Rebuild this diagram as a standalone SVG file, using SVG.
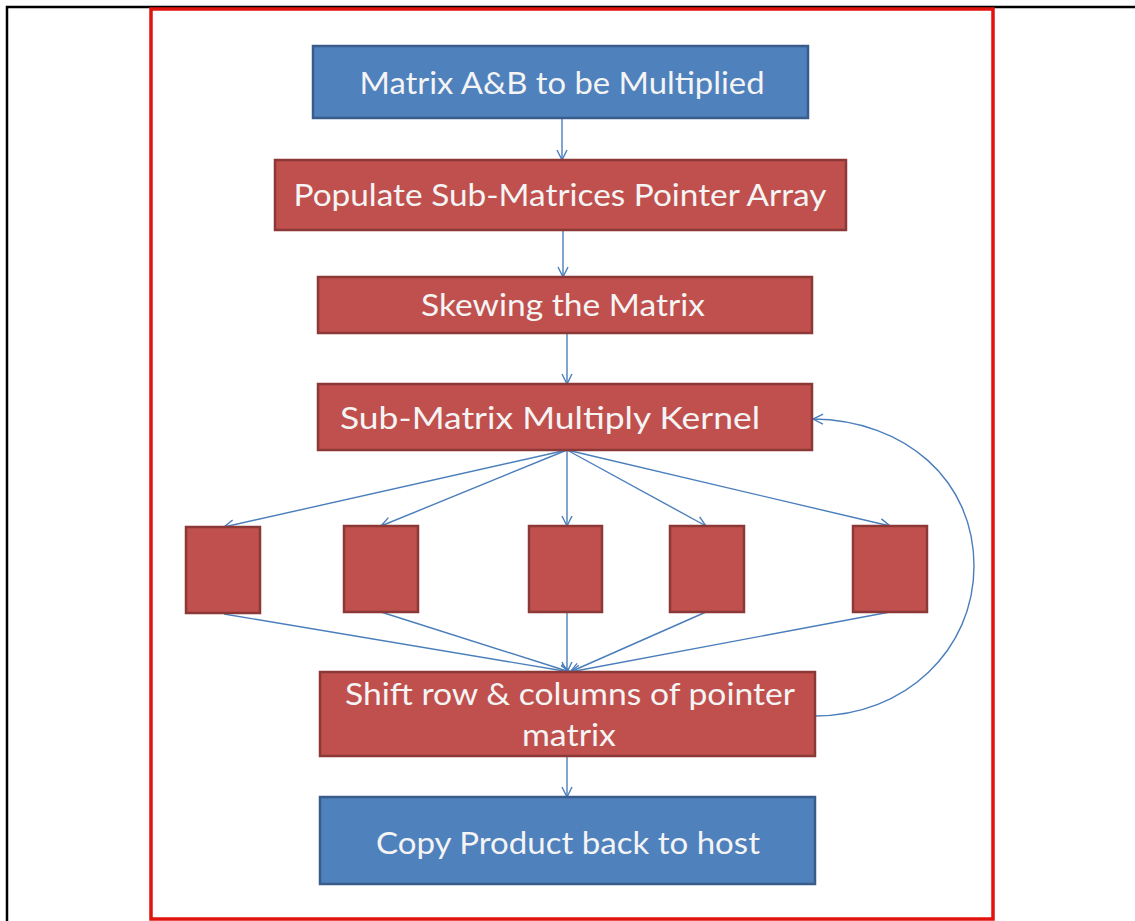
<svg xmlns="http://www.w3.org/2000/svg" width="1135" height="921" viewBox="0 0 1135 921">
  <defs>
    <style>
      .blue { fill: #4f81bd; stroke: #385d8a; stroke-width: 2.5; }
      .red { fill: #c0504d; stroke: #8c3836; stroke-width: 2.5; }
      .lbl { font-family: Lato, "Open Sans", "Liberation Sans", sans-serif; font-size: 31px; fill: #f4f4f4; text-anchor: middle; }
      .conn { fill: none; stroke: #4a7ebb; stroke-width: 1.4; }
    </style>
    <marker id="arrow" viewBox="0 0 12 12" refX="11" refY="6" markerWidth="12" markerHeight="12" markerUnits="userSpaceOnUse" orient="auto">
      <path d="M1,1 L11,6 L1,11" fill="none" stroke="#4a7ebb" stroke-width="1.4"/>
    </marker>
  </defs>

  <rect width="1135" height="921" fill="#ffffff"/>

  <!-- outer page rule -->
  <path d="M7,921 V7 H1135" fill="none" stroke="#000000" stroke-width="2.5"/>
  <!-- red frame -->
  <rect x="151" y="9" width="842" height="910" fill="#ffffff" stroke="#e0130f" stroke-width="3.5"/>

  <g id="connectors">
    <path class="conn" d="M562,118 V160" marker-end="url(#arrow)"/>
    <path class="conn" d="M563,230 V277" marker-end="url(#arrow)"/>
    <path class="conn" d="M567,333 V384" marker-end="url(#arrow)"/>
    <!-- fan out to workers -->
    <path class="conn" d="M567,450 L224,527" marker-end="url(#arrow)"/>
    <path class="conn" d="M567,450 L381,526" marker-end="url(#arrow)"/>
    <path class="conn" d="M567,450 V526" marker-end="url(#arrow)"/>
    <path class="conn" d="M567,450 L706,526" marker-end="url(#arrow)"/>
    <path class="conn" d="M567,450 L890,526" marker-end="url(#arrow)"/>
    <!-- fan in to shift -->
    <path class="conn" d="M224,614 L570,672" marker-end="url(#arrow)"/>
    <path class="conn" d="M381,612 L570,672" marker-end="url(#arrow)"/>
    <path class="conn" d="M567,612 V672" marker-end="url(#arrow)"/>
    <path class="conn" d="M706,612 L570,672" marker-end="url(#arrow)"/>
    <path class="conn" d="M890,612 L570,672" marker-end="url(#arrow)"/>
    <path class="conn" d="M567,756 V797" marker-end="url(#arrow)"/>
    <!-- loop back -->
    <path class="conn" d="M815,716 C905,716 974,650 974,566 C974,480 905,420 813,419" marker-end="url(#arrow)"/>
  </g>

  <g id="n-input">
    <rect class="blue" x="313" y="46" width="495" height="72"/>
    <text class="lbl" x="562" y="94" textLength="405" lengthAdjust="spacingAndGlyphs">Matrix A&amp;B to be Multiplied</text>
  </g>
  <g id="n-populate">
    <rect class="red" x="275" y="160" width="571" height="70"/>
    <text class="lbl" x="560" y="206" textLength="533" lengthAdjust="spacingAndGlyphs">Populate Sub-Matrices Pointer Array</text>
  </g>
  <g id="n-skew">
    <rect class="red" x="318" y="277" width="494" height="56"/>
    <text class="lbl" x="563" y="316" textLength="284" lengthAdjust="spacingAndGlyphs">Skewing the Matrix</text>
  </g>
  <g id="n-kernel">
    <rect class="red" x="318" y="384" width="494" height="66"/>
    <text class="lbl" x="550" y="429" textLength="420" lengthAdjust="spacingAndGlyphs">Sub-Matrix Multiply Kernel</text>
  </g>
  <g id="n-w1"><rect class="red" x="186" y="527" width="74" height="86"/></g>
  <g id="n-w2"><rect class="red" x="344" y="526" width="74" height="86"/></g>
  <g id="n-w3"><rect class="red" x="529" y="526" width="73" height="86"/></g>
  <g id="n-w4"><rect class="red" x="670" y="526" width="74" height="86"/></g>
  <g id="n-w5"><rect class="red" x="853" y="526" width="74" height="86"/></g>
  <g id="n-shift">
    <rect class="red" x="320" y="672" width="495" height="84"/>
    <text class="lbl" x="570" y="705" textLength="450" lengthAdjust="spacingAndGlyphs">Shift row &amp; columns of pointer</text>
    <text class="lbl" x="569" y="746" textLength="94" lengthAdjust="spacingAndGlyphs">matrix</text>
  </g>
  <g id="n-copy">
    <rect class="blue" x="320" y="797" width="495" height="87"/>
    <text class="lbl" x="568" y="854" textLength="384" lengthAdjust="spacingAndGlyphs">Copy Product back to host</text>
  </g>
</svg>
